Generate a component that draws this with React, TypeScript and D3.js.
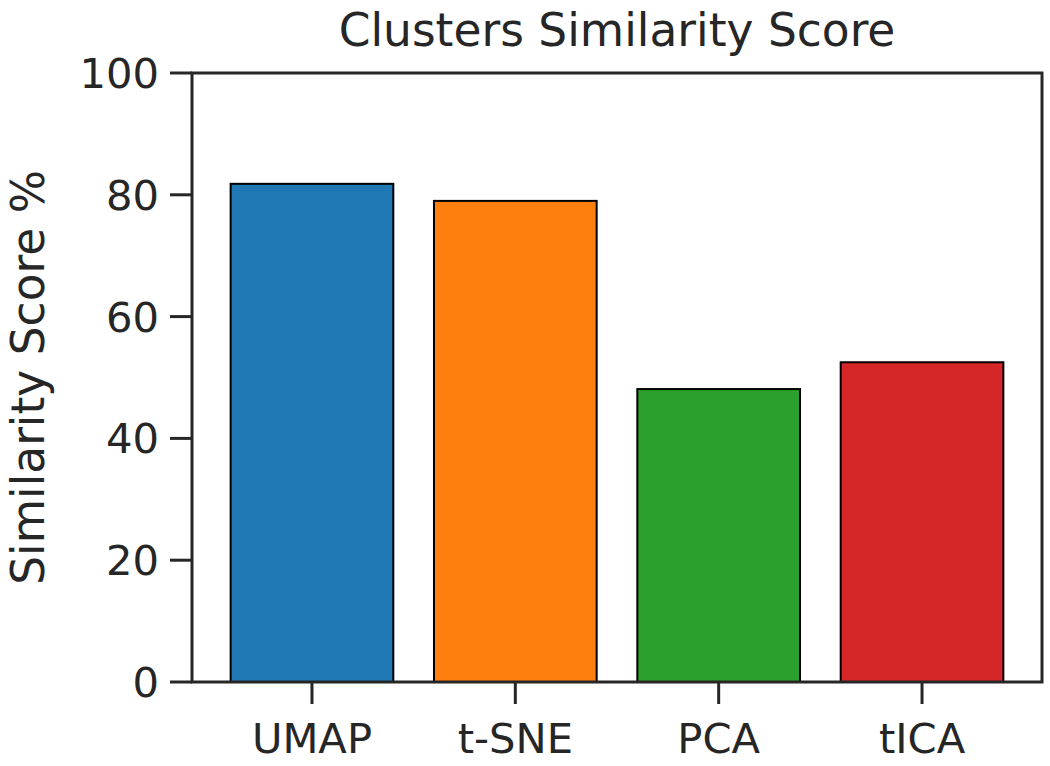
import React from "react";
import * as d3 from "d3";

const categories = ["UMAP", "t-SNE", "PCA", "tICA"];
const values = [81.8, 79.0, 48.1, 52.5];
const colors = ["#1f77b4", "#ff7f0e", "#2ca02c", "#d62728"];
const yTicks = [0, 20, 40, 60, 80, 100];

const W = 1050;
const H = 766;
const left = 192;
const right = 1042;
const top = 73;
const bottom = 682;
const FONT = "DejaVu Sans, sans-serif";
const FS = 45.5;
const TFS = 41.7;
const INK = "#262626";

export default function App() {
  const x = d3.scaleLinear().domain([-0.59, 3.59]).range([left, right]);
  const y = d3.scaleLinear().domain([0, 100]).range([bottom, top]);
  const bw = x(0.4) - x(0);

  return (
    <svg
      width={W}
      height={H}
      style={{ position: "absolute", left: 0, top: 0, background: "#fff" }}
      fontFamily={FONT}
    >
      <rect x={0} y={0} width={W} height={H} fill="#fff" />
      {categories.map((c, i) => (
        <rect
          key={c}
          x={x(i) - bw}
          y={y(values[i])}
          width={bw * 2}
          height={y(0) - y(values[i])}
          fill={colors[i]}
          stroke="#000"
          strokeWidth={2}
        />
      ))}
      {/* spines */}
      <rect
        x={left}
        y={top}
        width={right - left}
        height={bottom - top}
        fill="none"
        stroke={INK}
        strokeWidth={3}
      />
      {/* y ticks */}
      {yTicks.map((t) => (
        <g key={t}>
          <line x1={left - 22} x2={left} y1={y(t)} y2={y(t)} stroke={INK} strokeWidth={3} />
          <text
            x={left - 33}
            y={y(t)}
            dy="0.36em"
            textAnchor="end"
            fontSize={TFS}
            fill={INK}
          >
            {t}
          </text>
        </g>
      ))}
      {/* x ticks */}
      {categories.map((c, i) => (
        <g key={c}>
          <line x1={x(i)} x2={x(i)} y1={bottom} y2={bottom + 22} stroke={INK} strokeWidth={3} />
          <text x={x(i)} y={753} textAnchor="middle" fontSize={TFS} fill={INK}>
            {c}
          </text>
        </g>
      ))}
      <text
        transform={`translate(44, ${(top + bottom) / 2}) rotate(-90)`}
        textAnchor="middle"
        fontSize={FS}
        fill={INK}
      >
        Similarity Score %
      </text>
      <text x={(left + right) / 2} y={46} textAnchor="middle" fontSize={FS} fill={INK}>
        Clusters Similarity Score
      </text>
    </svg>
  );
}
